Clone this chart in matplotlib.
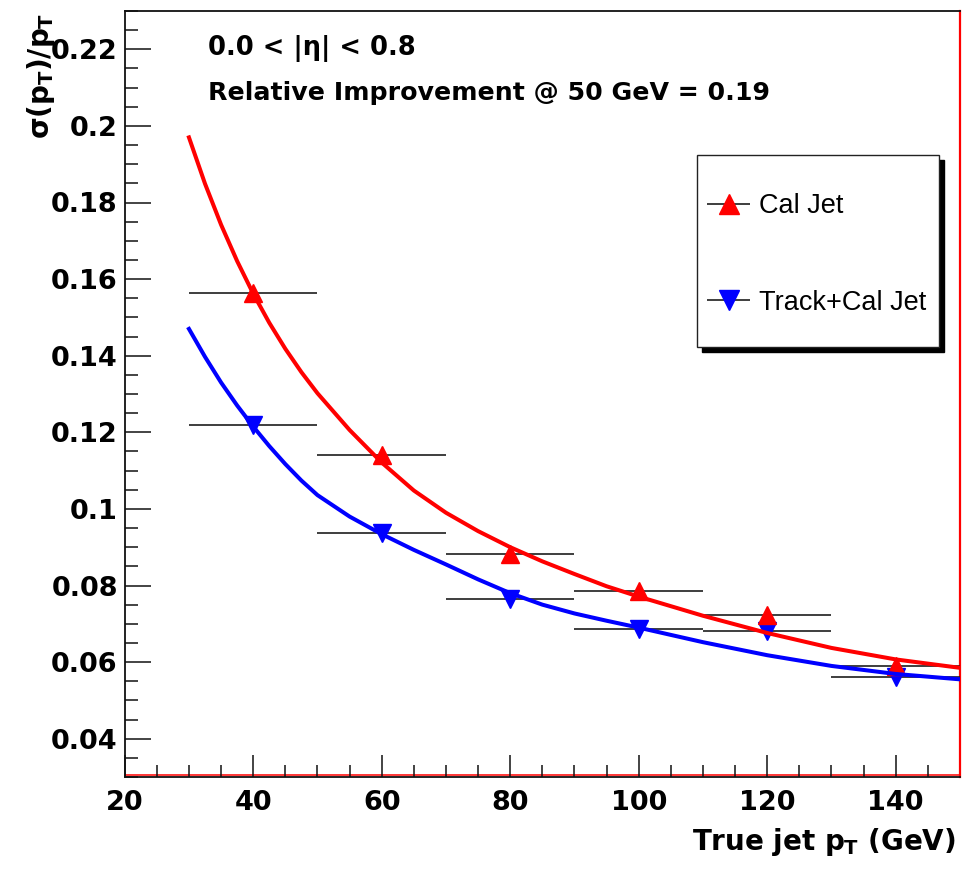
import matplotlib
matplotlib.use("Agg")
import matplotlib.pyplot as plt
from matplotlib.ticker import FixedLocator, MultipleLocator
from matplotlib.patches import Rectangle
from matplotlib.legend_handler import HandlerErrorbar

# ---- data -------------------------------------------------------------
pt_centers = [40, 60, 80, 100, 120, 140]
pt_halfwidth = [10, 10, 10, 10, 10, 10]
cal_res = [0.1565, 0.1140, 0.0881, 0.0785, 0.0724, 0.0591]
trackcal_res = [0.1219, 0.0937, 0.0766, 0.0687, 0.0680, 0.0561]

# fitted resolution curves
fit_pt = [30, 32.5, 35, 37.5, 40, 42.5, 45, 47.5, 50, 55, 60, 65, 70, 75,
          80, 85, 90, 95, 100, 110, 120, 130, 140, 150]
cal_fit = [0.1970, 0.1849, 0.1742, 0.1647, 0.1562, 0.1486, 0.1418, 0.1357,
           0.1302, 0.1206, 0.1121, 0.1048, 0.0990, 0.0942, 0.0900, 0.0863,
           0.0830, 0.0798, 0.0771, 0.0721, 0.0676, 0.0637, 0.0607, 0.0585]
trackcal_fit = [0.1470, 0.1397, 0.1330, 0.1270, 0.1215, 0.1164, 0.1117,
                0.1074, 0.1036, 0.0980, 0.0934, 0.0893, 0.0855, 0.0816,
                0.0780, 0.0750, 0.0727, 0.0708, 0.0690, 0.0652, 0.0618,
                0.0590, 0.0569, 0.0555]

series_labels = ["Cal Jet", "Track+Cal Jet"]
x_ticks = [20, 40, 60, 80, 100, 120, 140]
x_tick_labels = ["20", "40", "60", "80", "100", "120", "140"]
y_ticks = [0.04, 0.06, 0.08, 0.10, 0.12, 0.14, 0.16, 0.18, 0.20, 0.22]
y_tick_labels = ["0.04", "0.06", "0.08", "0.1", "0.12", "0.14", "0.16",
                 "0.18", "0.2", "0.22"]
eta_text = "0.0 < |η| < 0.8"
improvement_text = "Relative Improvement @ 50 GeV = 0.19"

# ---- style --------------------------------------------------------------
plt.rcParams["font.family"] = ["DejaVu Sans"]
plt.rcParams["font.weight"] = "bold"
plt.rcParams["mathtext.fontset"] = "custom"
plt.rcParams["mathtext.rm"] = "DejaVu Sans:bold"
plt.rcParams["mathtext.it"] = "DejaVu Sans:bold"
plt.rcParams["mathtext.bf"] = "DejaVu Sans:bold"
plt.rcParams["mathtext.sf"] = "DejaVu Sans:bold"

W, H = 965, 869
fig = plt.figure(figsize=(W / 100, H / 100), dpi=100)
fig.patch.set_facecolor("white")

ax_l, ax_r, ax_t, ax_b = 124.7, 960.0, 11.0, 777.0
ax = fig.add_axes([ax_l / W, 1 - ax_b / H, (ax_r - ax_l) / W, (ax_b - ax_t) / H])

ms = 12.5
track = ax.errorbar(pt_centers, trackcal_res, xerr=pt_halfwidth, fmt="v",
                    color="blue", ms=ms, ecolor="#1e1e1e", elinewidth=1.2,
                    capsize=0, zorder=3, label=series_labels[1])
cal = ax.errorbar(pt_centers, cal_res, xerr=pt_halfwidth, fmt="^",
                  color="red", ms=ms, ecolor="#1e1e1e", elinewidth=1.2,
                  capsize=0, zorder=3.3, label=series_labels[0])
ax.plot(fit_pt, trackcal_fit, color="blue", lw=2.9, zorder=4,
        solid_joinstyle="round")
ax.plot(fit_pt, cal_fit, color="red", lw=2.9, zorder=4.2,
        solid_joinstyle="round")

ax.set_xlim(20, 150)
ax.set_ylim(0.03, 0.23)
ax.xaxis.set_major_locator(FixedLocator(x_ticks))
ax.set_xticklabels(x_tick_labels)
ax.xaxis.set_minor_locator(MultipleLocator(5))
ax.yaxis.set_major_locator(FixedLocator(y_ticks))
ax.set_yticklabels(y_tick_labels)
ax.yaxis.set_minor_locator(MultipleLocator(0.005))

ax.tick_params(axis="both", which="both", direction="in", top=False,
               right=False, color="#111111", width=1.1)
ax.tick_params(axis="y", which="major", length=19, pad=5, labelsize=19.5)
ax.tick_params(axis="y", which="minor", length=9.5)
ax.tick_params(axis="x", which="major", length=15.5, pad=9, labelsize=19.5)
ax.tick_params(axis="x", which="minor", length=8.4)

for side in ("top", "left", "bottom"):
    ax.spines[side].set_color("#111111")
    ax.spines[side].set_linewidth(1.3)
ax.spines["right"].set_color("red")
ax.spines["right"].set_linewidth(1.6)
ax.plot([0, 1], [0.0025, 0.0025], transform=ax.transAxes, color="red",
        lw=1.1, clip_on=False, zorder=1)

# axis titles
fig.text(41 / W, 1 - 13 / H, r"$\sigma(p_{T})/p_{T}$", rotation=90,
         ha="center", va="top", fontsize=20)
fig.text(956 / W, 1 - 850 / H, r"True jet $p_{T}$ (GeV)", ha="right",
         va="baseline", fontsize=20)

# annotations
fig.text(208 / W, 1 - 55 / H, eta_text, ha="left", va="baseline",
         fontsize=18.5)
fig.text(208 / W, 1 - 100 / H, improvement_text, ha="left",
         va="baseline", fontsize=18.2)

# legend box with drop shadow
bx0, by0, bx1, by1 = 697, 155, 939, 347
shadow = Rectangle(((bx0 + 5) / W, 1 - (by1 + 5) / H), (bx1 - bx0) / W,
                   (by1 - by0) / H, transform=fig.transFigure,
                   facecolor="black", edgecolor="black", clip_on=False,
                   zorder=8)
box = Rectangle((bx0 / W, 1 - by1 / H), (bx1 - bx0) / W, (by1 - by0) / H,
                transform=fig.transFigure, facecolor="white",
                edgecolor="#222222", lw=1.0, clip_on=False, zorder=9)
ax.add_artist(shadow)
ax.add_artist(box)

err_handler = HandlerErrorbar(xerr_size=0.79, numpoints=1)
leg = ax.legend(handles=[cal, track], labels=series_labels,
                loc="center left", bbox_to_anchor=(707 / W, 1 - 254.5 / H),
                bbox_transform=fig.transFigure, frameon=False,
                prop={"family": "Liberation Sans", "weight": "normal",
                      "size": 19.5},
                handler_map={cal: err_handler, track: err_handler},
                markerscale=1.15, handlelength=1.6, handletextpad=0.33,
                labelspacing=2.6, borderpad=0, borderaxespad=0)
leg.set_zorder(10)

fig.savefig("out.png", dpi=100, facecolor="white")
